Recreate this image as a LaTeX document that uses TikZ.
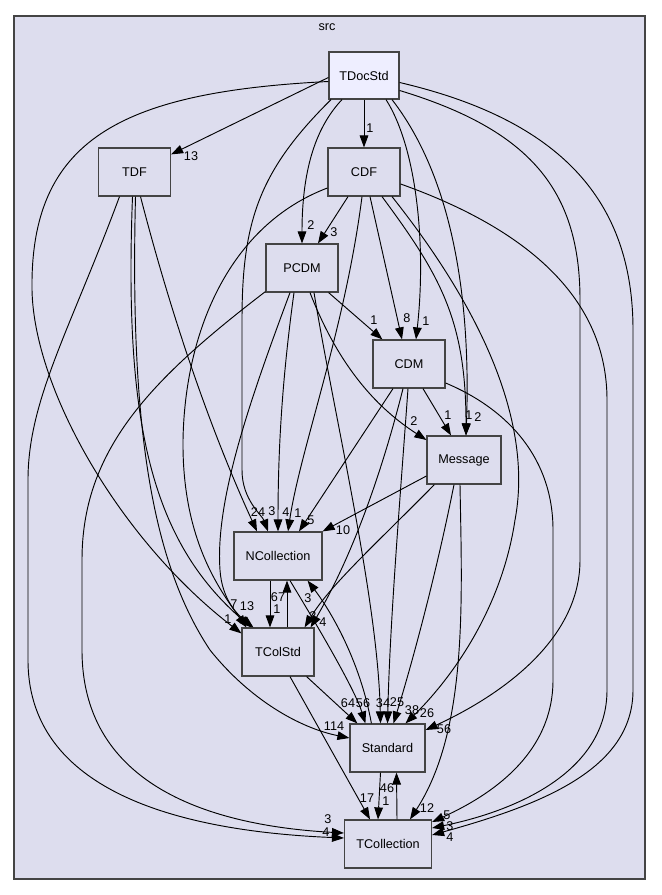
\documentclass[tikz,border=0pt]{standalone}
\usepackage{fontspec}
\setmainfont{Liberation Sans}
\usetikzlibrary{arrows.meta,calc}
\definecolor{clusterfill}{HTML}{DDDDEE}
\definecolor{topfill}{HTML}{EEEEFF}
\definecolor{frame}{HTML}{444444}

\begin{document}
\begin{tikzpicture}[x=0.75pt,y=-0.75pt,font=\fontsize{9.5}{10}\selectfont,
    dirbox/.style={draw=frame,line width=0.9pt,fill=clusterfill,inner sep=0pt,minimum height=36pt},
    dep/.style={draw=black,line width=0.7pt,-{Triangle[length=9pt,width=6.5pt]}},
    cnt/.style={inner sep=0pt}]
  % page in pixels of the doxygen output, y grows downwards
  \useasboundingbox (0,0) rectangle (661,895);
  \draw[draw=frame,line width=0.9pt,fill=clusterfill] (14,16) rectangle (645,879);
  \node[cnt] (srclabel) at (327,27) {src};

  % the directories
  \node[dirbox,fill=topfill,minimum width=52.5pt,minimum height=35.25pt] (tdocstd) at (364,75.5) {TDocStd};
  \node[dirbox,minimum width=54pt] (tdf) at (134.5,172) {TDF};
  \node[dirbox,minimum width=54pt] (cdf) at (364,172) {CDF};
  \node[dirbox,minimum width=54pt] (pcdm) at (302,268) {PCDM};
  \node[dirbox,minimum width=54pt] (cdm) at (409,364) {CDM};
  \node[dirbox,minimum width=55.5pt] (message) at (464,460) {Message};
  \node[dirbox,minimum width=66pt] (ncoll) at (278,556) {NCollection};
  \node[dirbox,minimum width=54pt] (tcolstd) at (278,652) {TColStd};
  \node[dirbox,minimum width=56.25pt] (standard) at (387.5,748) {Standard};
  \node[dirbox,minimum width=65.25pt] (tcoll) at (388,844) {TCollection};

  % TDocStd
  \draw[dep] ($(tdocstd.west)+(0,2)$) -- ($(tdf.north east)+(0,7)$);
  \draw[dep] (tdocstd.south) -- (cdf.north);
  \draw[dep] ($(tdocstd.south)+(-22,0)$) .. controls (318,125) and (302,165) .. (pcdm.north);
  \draw[dep] ($(tdocstd.south)+(22,0)$) .. controls (418,150) and (426,250) .. ($(cdm.north)+(7,0)$);
  \draw[dep] ($(tdocstd.south)+(28,0)$) .. controls (462,190) and (470,330) .. ($(message.north)+(2,0)$);
  \draw[dep] ($(tdocstd.south)+(-33,0)$) .. controls (260,170) and (242,220) .. (242,320)
    -- (242,470) .. controls (242,500) and (262,515) .. ($(ncoll.north)+(-10,0)$);
  \draw[dep] ($(tdocstd.west)+(0,6)$) .. controls (120,92) and (30,140) .. (32,290)
    .. controls (34,390) and (120,540) .. ($(tcolstd.north west)+(0,6)$);
  \draw[dep] ($(tdocstd.east)+(0,15)$) .. controls (530,130) and (580,190) .. (580,300)
    -- (580,560) .. controls (580,650) and (480,705) .. ($(standard.east)+(0,-18)$);
  \draw[dep] ($(tdocstd.east)+(0,7)$) .. controls (560,120) and (633,200) .. (633,330)
    -- (633,690) .. controls (633,770) and (540,805) .. ($(tcoll.east)+(0,-9)$);

  % TDF
  \draw[dep] ($(tdf.south)+(-2,0)$) .. controls (124,420) and (150,540) .. ($(tcolstd.north west)+(10,0)$);
  \draw[dep] ($(tdf.south)+(1,0)$) .. controls (130,420) and (150,560) .. (210,650)
    .. controls (250,700) and (300,728) .. ($(standard.west)+(0,-10)$);
  \draw[dep] ($(tdf.south)+(6,0)$) .. controls (175,330) and (215,440) .. ($(ncoll.north)+(-21,0)$);
  \draw[dep] ($(tdf.south)+(-15,0)$) .. controls (70,330) and (28,400) .. (28,480)
    -- (28,660) .. controls (28,800) and (200,832) .. ($(tcoll.west)+(0,-6)$);

  % CDF
  \draw[dep] ($(cdf.south)+(-16,0)$) -- ($(pcdm.north)+(16,0)$);
  \draw[dep] ($(cdf.south)+(6,0)$) -- ($(cdm.north)+(-7,0)$);
  \draw[dep] ($(cdf.south)+(18,0)$) .. controls (440,275) and (466,320) .. ($(message.north)+(2,0)$);
  \draw[dep] ($(cdf.south)+(-2,0)$) .. controls (345,330) and (300,450) .. ($(ncoll.north)+(10,0)$);
  \draw[dep] ($(cdf.west)+(0,16)$) .. controls (230,225) and (185,330) .. (183,440)
    .. controls (182,540) and (220,590) .. ($(tcolstd.north west)+(5,0)$);
  \draw[dep] ($(cdf.south)+(28,0)$) .. controls (490,320) and (532,430) .. (515,520)
    .. controls (500,620) and (440,690) .. ($(standard.north)+(18,0)$);
  \draw[dep] ($(cdf.east)+(0,12)$) .. controls (530,230) and (607,300) .. (607,400)
    -- (607,690) .. controls (607,770) and (520,810) .. ($(tcoll.east)+(0,-16)$);

  % PCDM
  \draw[dep] ($(pcdm.south east)+(-10,0)$) -- ($(cdm.north west)+(10,0)$);
  \draw[dep] ($(pcdm.south)+(8,0)$) .. controls (340,370) and (380,410) .. ($(message.west)+(0,-20)$);
  \draw[dep] ($(pcdm.south)+(-8,0)$) .. controls (282,380) and (278,450) .. (ncoll.north);
  \draw[dep] ($(pcdm.south)+(-12,0)$) .. controls (250,400) and (215,500) .. (220,570)
    .. controls (222,600) and (238,615) .. ($(tcolstd.north west)+(12,0)$);
  \draw[dep] ($(pcdm.south)+(12,0)$) .. controls (335,420) and (378,600) .. ($(standard.north)+(-7,0)$);
  \draw[dep] ($(pcdm.south west)+(0,-1)$) .. controls (150,380) and (82,450) .. (82,560)
    -- (82,650) .. controls (82,780) and (200,825) .. ($(tcoll.west)+(0,-11)$);

  % CDM
  \draw[dep] ($(cdm.south)+(14,0)$) -- ($(message.north)+(-13,0)$);
  \draw[dep] ($(cdm.south)+(-16,0)$) -- ($(ncoll.north)+(21,0)$);
  \draw[dep] ($(cdm.south)+(-6,0)$) .. controls (380,480) and (350,560) .. ($(tcolstd.north east)+(-4,0)$);
  \draw[dep] ($(cdm.south)+(-1,0)$) .. controls (400,500) and (390,620) .. (standard.north);
  \draw[dep] ($(cdm.east)+(0,19)$) .. controls (510,410) and (553,460) .. (553,530)
    -- (553,680) .. controls (553,760) and (480,800) .. ($(tcoll.east)+(0,-22)$);

  % Message
  \draw[dep] ($(message.west)+(0,16)$) -- (ncoll.north east);
  \draw[dep] ($(message.south west)+(8,0)$) .. controls (380,540) and (330,585) .. ($(tcolstd.north east)+(-10,0)$);
  \draw[dep] ($(message.south)+(-10,0)$) .. controls (435,580) and (410,670) .. ($(standard.north)+(6,0)$);
  \draw[dep] ($(message.south)+(-4,0)$) .. controls (462,600) and (468,730) .. ($(tcoll.north)+(22,0)$);

  % the lower four
  \draw[dep] ($(ncoll.south)+(-8,0)$) -- ($(tcolstd.north)+(-8,0)$);
  \draw[dep] ($(tcolstd.north)+(9,0)$) -- ($(ncoll.south)+(9,0)$);
  \draw[dep] ($(ncoll.south)+(12,0)$) .. controls (320,630) and (355,690) .. ($(standard.north west)+(16,0)$);
  \draw[dep] ($(standard.north west)+(22,0)$) .. controls (360,660) and (330,610) .. ($(ncoll.south east)+(-15,0)$);
  \draw[dep] ($(tcolstd.south east)+(-8,0)$) -- ($(standard.north west)+(8,0)$);
  \draw[dep] ($(tcolstd.south)+(12,0)$) -- ($(tcoll.north)+(-18,0)$);
  \draw[dep] ($(standard.south)+(-7,0)$) -- ($(tcoll.north)+(-10,0)$);
  \draw[dep] ($(tcoll.north)+(9,0)$) -- ($(standard.south)+(9,0)$);

  % counts, set next to the arrow heads
  \foreach \x/\y/\n [count=\i] in {191/156/13, 370/128/1, 311/225/2, 334/232/3, 426/321/1,
      374/320/1, 407/318/8, 469/415/1, 478/417/2, 414/421/2, 448/415/1,
      258/512/24, 272/511/3, 286/512/4, 298/513/1, 311/520/5, 343/530/10,
      234/604/7, 228/619/1, 247/606/13, 313/616/2, 323/622/4, 278/597/67, 277/609/1, 308/598/3,
      348/703/64, 363/703/56, 383/703/34, 397/702/25, 412/710/38, 427/713/26,
      334/726/114, 444/729/56, 367/798/17, 386/801/1, 387/788/46, 427/808/12,
      447/815/5, 450/826/3, 450/837/4, 328/819/3, 326/832/4}{
    \node[cnt] (cnt\i) at (\x,\y) {\n};}
\end{tikzpicture}
\end{document}
